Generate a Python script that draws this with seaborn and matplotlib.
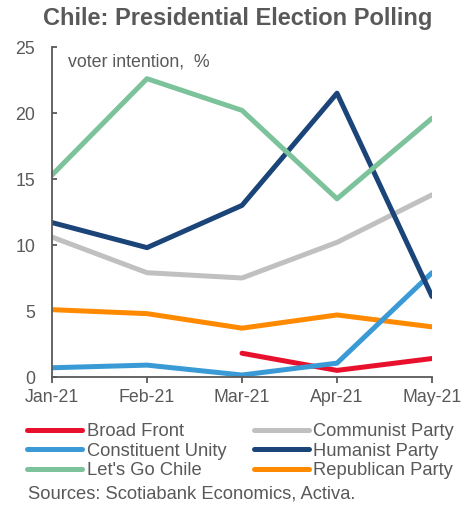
import numpy as np
import pandas as pd
import matplotlib
matplotlib.use("Agg")
import matplotlib.pyplot as plt
from matplotlib.lines import Line2D
import seaborn as sns

months = ["Jan-21", "Feb-21", "Mar-21", "Apr-21", "May-21"]
broad_front = [np.nan, np.nan, 1.8, 0.5, 1.4]
constituent_unity = [0.7, 0.9, 0.15, 1.05, 7.9]
lets_go_chile = [15.3, 22.6, 20.2, 13.5, 19.6]
communist_party = [10.6, 7.9, 7.5, 10.2, 13.8]
humanist_party = [11.7, 9.8, 13.0, 21.5, 6.1]
republican_party = [5.1, 4.8, 3.7, 4.7, 3.8]

series = {
    "Broad Front": broad_front,
    "Constituent Unity": constituent_unity,
    "Let's Go Chile": lets_go_chile,
    "Communist Party": communist_party,
    "Humanist Party": humanist_party,
    "Republican Party": republican_party,
}
colors = {
    "Broad Front": "#e8112d",
    "Constituent Unity": "#3a9ad5",
    "Let's Go Chile": "#7cc29a",
    "Communist Party": "#c0c0c0",
    "Humanist Party": "#1b4479",
    "Republican Party": "#ff8a00",
}

rows = []
for name, vals in series.items():
    for i, (m, v) in enumerate(zip(months, vals)):
        rows.append({"pos": i, "month": m, "party": name, "value": v})
df = pd.DataFrame(rows).dropna()

sns.set_style("white")
plt.rcParams["font.family"] = ["Liberation Sans", "DejaVu Sans"]
grey = "#595959"

fig = plt.figure(figsize=(4.62, 5.12), dpi=100)
ax = fig.add_axes([52 / 462, 1 - 377 / 512, (432 - 52) / 462, (377 - 47) / 512])

draw_order = ["Communist Party", "Republican Party", "Broad Front",
              "Constituent Unity", "Humanist Party", "Let's Go Chile"]
sns.lineplot(data=df, x="pos", y="value", hue="party", hue_order=draw_order,
             palette=colors, linewidth=3.6, ax=ax, legend=False,
             solid_capstyle="round")

ax.set_xlim(0, 4)
ax.set_ylim(0, 25)
ax.set_xticks(range(len(months)))
ax.set_xticklabels(months)
ax.set_yticks([0, 5, 10, 15, 20, 25])
ax.set_xlabel("")
ax.set_ylabel("")
for s in ["top", "right"]:
    ax.spines[s].set_visible(False)
for s in ["left", "bottom"]:
    ax.spines[s].set_color(grey)
    ax.spines[s].set_linewidth(1.3)
ax.tick_params(axis="y", direction="in", length=3.5, width=1.3, color=grey,
               labelcolor=grey, labelsize=12.8, pad=12, left=True)
ax.tick_params(axis="x", direction="out", length=4, width=1.3, color=grey,
               labelcolor=grey, labelsize=12.8, pad=5, bottom=True)

fig.text(68 / 462, 1 - 62 / 512, "voter intention,  %", color=grey,
         fontsize=12.8, va="center", ha="left")

fig.text(238 / 462, 1 - 18 / 512, "Chile: Presidential Election Polling",
         color=grey, fontsize=17, fontweight="bold", ha="center", va="center")

legend_order = ["Broad Front", "Constituent Unity", "Let's Go Chile",
                "Communist Party", "Humanist Party", "Republican Party"]
handles = [Line2D([], [], color=colors[n], linewidth=3.6, solid_capstyle="round")
           for n in legend_order]
leg = fig.legend(handles, legend_order, ncol=2, loc="upper left",
                 bbox_to_anchor=(27 / 462, 1 - 423 / 512), frameon=False,
                 fontsize=13.2, handlelength=3.0, handletextpad=0.25,
                 columnspacing=1.5, labelspacing=0.14, borderpad=0,
                 borderaxespad=0)
for t in leg.get_texts():
    t.set_color(grey)

fig.text(28 / 462, 1 - 494 / 512, "Sources: Scotiabank Economics, Activa.",
         color=grey, fontsize=13.2, ha="left", va="center")

fig.savefig("out.png", dpi=100)
